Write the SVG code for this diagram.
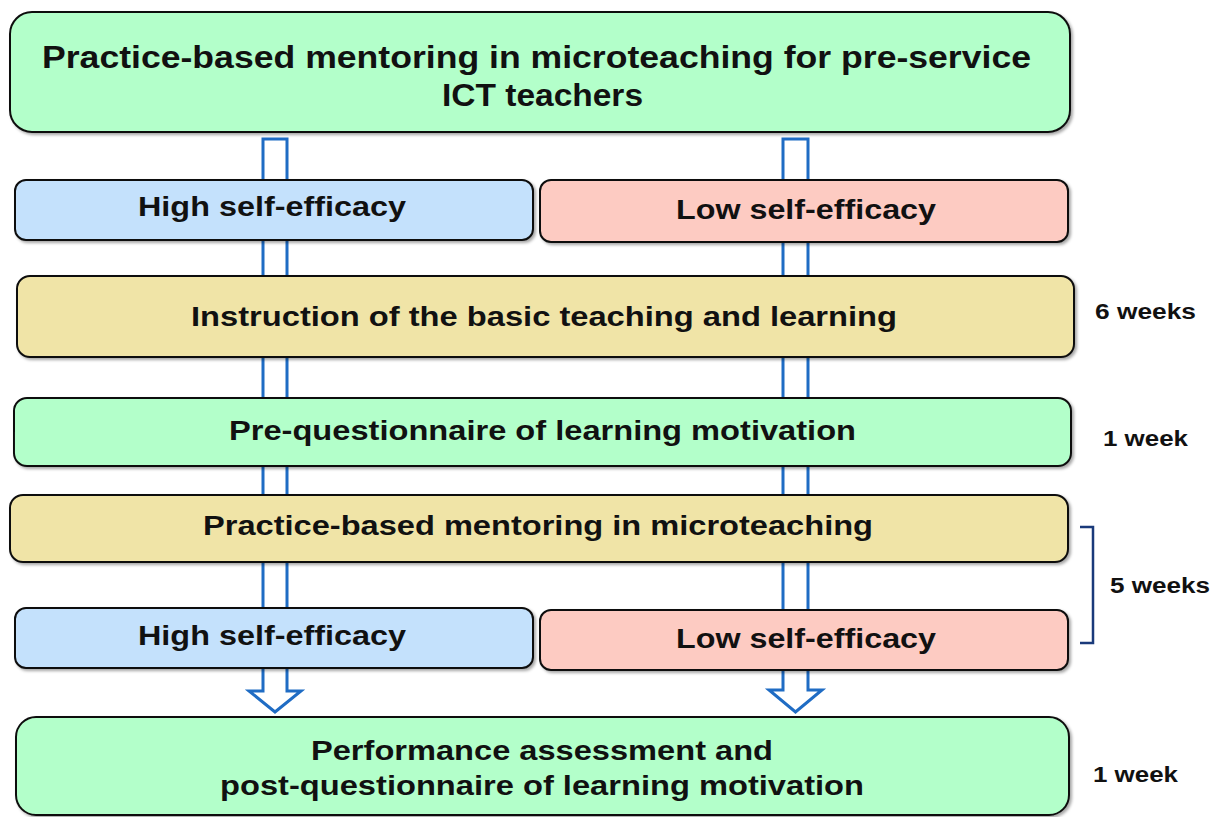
<svg xmlns="http://www.w3.org/2000/svg" width="1219" height="817" viewBox="0 0 1219 817">
<style>
.box{stroke:#111;stroke-width:2;filter:url(#sh)}
.g{fill:#b3ffca}
.b{fill:#c4e1fc}
.p{fill:#fdcbc2}
.k{fill:#f0e4a7}
.t{font-family:"Liberation Sans",Arial,sans-serif;font-weight:bold;fill:#111}
.lbl{font-size:27px}
.ttl{font-size:32px}
.dur{font-size:22px}
.arrow{fill:#fff;stroke:#1f6cc4;stroke-width:3;stroke-linejoin:miter}
</style>
<defs>
<filter id="sh" x="-5%" y="-20%" width="110%" height="140%">
<feDropShadow dx="2" dy="2" stdDeviation="1.5" flood-color="#000" flood-opacity="0.35"/>
</filter>
</defs>
<rect width="1219" height="817" fill="#fff"/>
<g id="connectors">
<path class="arrow" d="M263,139 L287,139 L287,691 L301,691 L275,712 L249,691 L263,691 Z"/>
<path class="arrow" d="M783,139 L808,139 L808,690 L822,690 L795.5,712 L769,690 L783,690 Z"/>
<path d="M1080,527 L1093,527 L1093,643 L1080,643" fill="none" stroke="#1a3a7a" stroke-width="2.5"/>
</g>
<g id="title">
<rect class="box g" x="10" y="12" width="1060" height="120" rx="22"/>
<text class="t ttl" x="42" y="68" textLength="989" lengthAdjust="spacingAndGlyphs">Practice-based mentoring in microteaching for pre-service</text>
<text class="t ttl" x="442" y="106" textLength="201" lengthAdjust="spacingAndGlyphs">ICT teachers</text>
</g>
<g id="high1">
<rect class="box b" x="15" y="180" width="518" height="60" rx="11"/>
<text class="t lbl" x="138" y="216" textLength="268" lengthAdjust="spacingAndGlyphs">High self-efficacy</text>
</g>
<g id="low1">
<rect class="box p" x="540" y="180" width="528" height="62" rx="11"/>
<text class="t lbl" x="676" y="219" textLength="260" lengthAdjust="spacingAndGlyphs">Low self-efficacy</text>
</g>
<g id="instruction">
<rect class="box k" x="17" y="276" width="1057" height="81" rx="13"/>
<text class="t lbl" x="191" y="326" textLength="706" lengthAdjust="spacingAndGlyphs">Instruction of the basic teaching and learning</text>
</g>
<g id="preq">
<rect class="box g" x="14" y="398" width="1057" height="68" rx="13"/>
<text class="t lbl" x="229" y="440" textLength="627" lengthAdjust="spacingAndGlyphs">Pre-questionnaire of learning motivation</text>
</g>
<g id="mentoring">
<rect class="box k" x="10" y="495" width="1058" height="67" rx="13"/>
<text class="t lbl" x="203" y="535" textLength="670" lengthAdjust="spacingAndGlyphs">Practice-based mentoring in microteaching</text>
</g>
<g id="high2">
<rect class="box b" x="15" y="608" width="518" height="60" rx="11"/>
<text class="t lbl" x="138" y="645" textLength="268" lengthAdjust="spacingAndGlyphs">High self-efficacy</text>
</g>
<g id="low2">
<rect class="box p" x="540" y="610" width="528" height="60" rx="11"/>
<text class="t lbl" x="676" y="648" textLength="260" lengthAdjust="spacingAndGlyphs">Low self-efficacy</text>
</g>
<g id="performance">
<rect class="box g" x="16" y="717" width="1053" height="98" rx="20"/>
<text class="t lbl" x="311" y="760" textLength="462" lengthAdjust="spacingAndGlyphs">Performance assessment and</text>
<text class="t lbl" x="220" y="795" textLength="644" lengthAdjust="spacingAndGlyphs">post-questionnaire of learning motivation</text>
</g>
<g id="durations">
<text class="t dur" x="1095" y="319" textLength="101" lengthAdjust="spacingAndGlyphs">6 weeks</text>
<text class="t dur" x="1103" y="446" textLength="85" lengthAdjust="spacingAndGlyphs">1 week</text>
<text class="t dur" x="1110" y="593" textLength="100" lengthAdjust="spacingAndGlyphs">5 weeks</text>
<text class="t dur" x="1093" y="782" textLength="85" lengthAdjust="spacingAndGlyphs">1 week</text>
</g>
</svg>
